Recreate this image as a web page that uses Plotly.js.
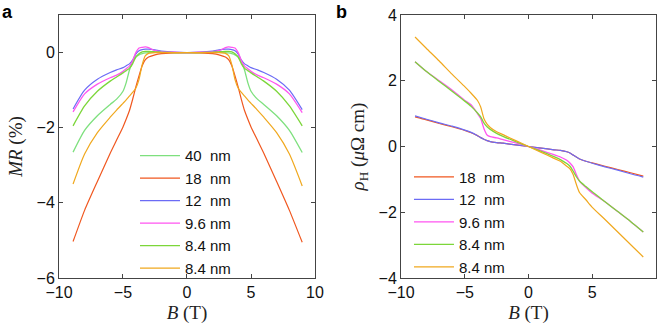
<!DOCTYPE html>
<html>
<head>
<meta charset="utf-8">
<script src="https://cdn.plot.ly/plotly-3.0.1.min.js"></script>
<style>
  html, body { margin: 0; padding: 0; background: #fff; }
  #chart { width: 665px; height: 324px; }
</style>
</head>
<body>
<div id="chart"></div>
<script>
// panel a: magnetoresistance vs field
var fieldMR = [-8.9, -8, -7, -6, -5.5, -5, -4.75, -4.5, -4.25, -4, -3.75, -3.5, -3.25, -3, -2.5, -2, -1,
  0, 1, 2, 2.5, 3, 3.25, 3.5, 3.75, 4, 4.25, 4.5, 4.75, 5, 5.5, 6, 7, 8, 9];

var mr40 = [-2.65, -2.07, -1.68, -1.38, -1.24, -1.03, -0.8, -0.47, -0.24, -0.12, -0.06, -0.03, -0.01, 0, 0.01, 0.01, 0,
  0, 0, 0.01, 0.01, 0, -0.01, -0.03, -0.06, -0.12, -0.24, -0.47, -0.8, -1.03, -1.24, -1.38, -1.68, -2.07, -2.66];
var mr18 = [-5.03, -4.2, -3.43, -2.68, -2.33, -1.98, -1.77, -1.55, -1.25, -0.92, -0.62, -0.35, -0.19, -0.12, -0.06, -0.03, -0.01,
  0, -0.01, -0.03, -0.06, -0.12, -0.19, -0.35, -0.62, -0.92, -1.25, -1.55, -1.77, -1.98, -2.33, -2.68, -3.43, -4.2, -5.05];
var mr12 = [-1.5, -1.0, -0.71, -0.53, -0.46, -0.4, -0.35, -0.3, -0.2, -0.04, 0.05, 0.08, 0.09, 0.09, 0.07, 0.04, 0.01,
  0, 0.01, 0.04, 0.07, 0.09, 0.09, 0.08, 0.05, -0.04, -0.2, -0.3, -0.35, -0.4, -0.46, -0.53, -0.71, -1.0, -1.52];
var mr96 = [-1.58, -1.1, -0.84, -0.67, -0.6, -0.5, -0.43, -0.36, -0.22, 0.0, 0.12, 0.14, 0.15, 0.13, 0.05, 0.02, 0.01,
  0, 0.01, 0.02, 0.05, 0.13, 0.15, 0.14, 0.12, 0.0, -0.22, -0.36, -0.43, -0.5, -0.6, -0.67, -0.84, -1.1, -1.6];
var mr84g = [-1.95, -1.42, -1.03, -0.76, -0.65, -0.54, -0.48, -0.42, -0.3, -0.12, -0.03, 0.02, 0.03, 0.03, 0.02, 0.01, 0,
  0, 0, 0.01, 0.02, 0.03, 0.03, 0.02, -0.03, -0.12, -0.3, -0.42, -0.48, -0.54, -0.65, -0.76, -1.03, -1.42, -1.95];
var mr84o = [-3.5, -2.7, -2.13, -1.72, -1.53, -1.35, -1.26, -1.16, -1.06, -0.95, -0.72, -0.32, -0.08, -0.02, 0, 0, 0,
  0, 0, 0, 0, -0.02, -0.08, -0.32, -0.72, -0.95, -1.06, -1.16, -1.26, -1.35, -1.53, -1.72, -2.13, -2.7, -3.55];

// panel b: Hall resistivity vs field
var fieldH = [-8.9, -8, -7, -6, -5, -4.5, -4, -3.75, -3.5, -3.25, -3, -2.5, -2, -1,
  0, 1, 2, 2.5, 3, 3.25, 3.5, 3.75, 4, 4.5, 5, 6, 7, 8, 9];

var rh18 = [0.9, 0.81, 0.7, 0.6, 0.49, 0.42, 0.33, 0.27, 0.22, 0.18, 0.15, 0.12, 0.1, 0.05,
  0, -0.05, -0.1, -0.12, -0.16, -0.2, -0.26, -0.32, -0.38, -0.45, -0.5, -0.6, -0.7, -0.8, -0.9];
var rh12 = [0.93, 0.83, 0.72, 0.62, 0.5, 0.43, 0.33, 0.27, 0.22, 0.18, 0.15, 0.12, 0.1, 0.05,
  0, -0.05, -0.1, -0.12, -0.16, -0.2, -0.26, -0.32, -0.38, -0.45, -0.51, -0.62, -0.72, -0.83, -0.93];
var rh96 = [2.58, 2.28, 2.0, 1.72, 1.4, 1.27, 1.0, 0.85, 0.55, 0.35, 0.3, 0.26, 0.21, 0.11,
  0, -0.12, -0.25, -0.32, -0.42, -0.5, -0.62, -0.85, -1.05, -1.25, -1.42, -1.68, -1.98, -2.28, -2.6];
var rh84g = [2.58, 2.28, 1.98, 1.68, 1.38, 1.22, 1.02, 0.9, 0.72, 0.6, 0.52, 0.4, 0.31, 0.15,
  0, -0.15, -0.31, -0.4, -0.52, -0.6, -0.75, -0.92, -1.05, -1.22, -1.38, -1.68, -1.98, -2.28, -2.6];
var rh84o = [3.33, 2.98, 2.6, 2.2, 1.82, 1.62, 1.4, 1.2, 0.85, 0.68, 0.58, 0.45, 0.36, 0.18,
  0, -0.18, -0.36, -0.45, -0.6, -0.68, -0.85, -1.15, -1.4, -1.62, -1.85, -2.22, -2.6, -2.98, -3.36];

var labelsA = ['40\u00a0\u00a0nm', '18\u00a0\u00a0nm', '12\u00a0\u00a0nm', '9.6 nm', '8.4 nm', '8.4 nm'];
var labelsB = ['18\u00a0\u00a0nm', '12\u00a0\u00a0nm', '9.6 nm', '8.4 nm', '8.4 nm'];

var cLight = '#7ee07e', cRed = '#f0571f', cBlue = '#6b6bf5', cMag = '#ff55f0', cGreen = '#7cd63a', cOrange = '#f0a81e';

function line(x, y, name, color, w, xa, ya, leg) {
  return {
    x: x, y: y, name: name, type: 'scatter', mode: 'lines',
    line: {color: color, width: w, shape: 'spline', smoothing: 0.6},
    xaxis: xa, yaxis: ya, legend: leg
  };
}

var data = [
  line(fieldMR, mr40, labelsA[0], cLight, 1.3, 'x', 'y', 'legend'),
  line(fieldMR, mr18, labelsA[1], cRed, 1.2, 'x', 'y', 'legend'),
  line(fieldMR, mr12, labelsA[2], cBlue, 1.2, 'x', 'y', 'legend'),
  line(fieldMR, mr96, labelsA[3], cMag, 1.3, 'x', 'y', 'legend'),
  line(fieldMR, mr84g, labelsA[4], cGreen, 1.3, 'x', 'y', 'legend'),
  line(fieldMR, mr84o, labelsA[5], cOrange, 1.2, 'x', 'y', 'legend'),

  line(fieldH, rh18, labelsB[0], cRed, 1.2, 'x2', 'y2', 'legend2'),
  line(fieldH, rh12, labelsB[1], cBlue, 1.2, 'x2', 'y2', 'legend2'),
  line(fieldH, rh96, labelsB[2], cMag, 1.3, 'x2', 'y2', 'legend2'),
  line(fieldH, rh84g, labelsB[3], cGreen, 1.3, 'x2', 'y2', 'legend2'),
  line(fieldH, rh84o, labelsB[4], cOrange, 1.2, 'x2', 'y2', 'legend2')
];

var tickFont = {family: 'Liberation Sans, Arial, sans-serif', size: 16, color: '#111'};
var titleFont = {family: 'Liberation Serif, Times New Roman, serif', size: 19, color: '#222'};

function axis(domain, range, tickvals, anchor, title, standoff) {
  return {
    domain: domain, range: range, tickvals: tickvals, anchor: anchor,
    showline: true, linecolor: '#444', linewidth: 1, mirror: 'ticks',
    ticks: 'inside', ticklen: 4, tickcolor: '#444', tickwidth: 1,
    showgrid: false, zeroline: false, tickfont: tickFont,
    title: {text: title, font: titleFont, standoff: standoff}
  };
}

var legendStyle = function (x, y) {
  return {
    x: x, y: y, xanchor: 'left', yanchor: 'top',
    bgcolor: 'rgba(0,0,0,0)', borderwidth: 0, tracegroupgap: 0, itemwidth: 40,
    font: {family: 'Liberation Sans, Arial, sans-serif', size: 15, color: '#111'}
  };
};

var layout = {
  width: 665, height: 324,
  margin: {l: 0, r: 0, t: 0, b: 0},
  paper_bgcolor: '#fff', plot_bgcolor: '#fff',
  xaxis: axis([0.0887, 0.4737], [-10, 10], [-10, -5, 0, 5, 10], 'y', '<i>B</i>\u00a0(T)', 6),
  yaxis: axis([0.142, 0.9537], [-6, 1], [-6, -4, -2, 0], 'x', '<i>MR</i>\u00a0(%)', 8),
  xaxis2: axis([0.603, 0.9865], [-10, 10], [-10, -5, 0, 5, 10], 'y2', '<i>B</i>\u00a0(T)', 6),
  yaxis2: axis([0.142, 0.9537], [-4, 4], [-4, -2, 0, 2, 4], 'x2', '<i>ρ</i><sub>H</sub>\u00a0(<i>μ</i>Ω cm)', 8),
  legend: legendStyle(0.203, 0.570),
  legend2: legendStyle(0.615, 0.504),
  annotations: [
    {text: '<b>a</b>', x: 0, y: 1.0, xref: 'paper', yref: 'paper', xanchor: 'left', yanchor: 'top',
     showarrow: false, font: {family: 'Liberation Sans, Arial, sans-serif', size: 18, color: '#000'}},
    {text: '<b>b</b>', x: 0.503, y: 1.0, xref: 'paper', yref: 'paper', xanchor: 'left', yanchor: 'top',
     showarrow: false, font: {family: 'Liberation Sans, Arial, sans-serif', size: 18, color: '#000'}}
  ]
};

Plotly.newPlot('chart', data, layout, {staticPlot: true});
</script>
</body>
</html>
